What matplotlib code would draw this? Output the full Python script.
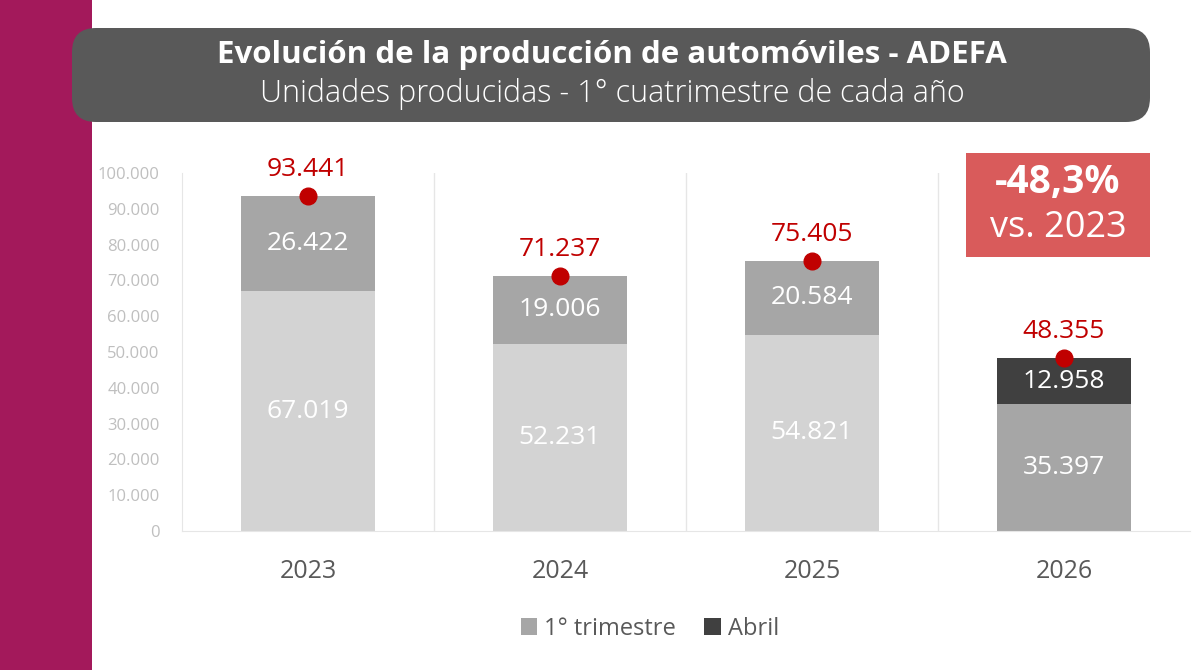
import matplotlib
matplotlib.use("Agg")
import matplotlib.pyplot as plt
from matplotlib.patches import FancyBboxPatch, Rectangle, Patch
import numpy as np

years = ["2023", "2024", "2025", "2026"]
trimestre = [67019, 52231, 54821, 35397]
abril = [26422, 19006, 20584, 12958]
totals = [93441, 71237, 75405, 48355]
ytick_vals = [0, 10000, 20000, 30000, 40000, 50000, 60000, 70000, 80000, 90000, 100000]
title = "Evolución de la producción de automóviles - ADEFA"
subtitle = "Unidades producidas - 1° cuatrimestre de cada año"
callout_pct = "-48,3%"
callout_ref = "vs. 2023"
legend_labels = ["1° trimestre", "Abril"]

plt.rcParams['font.family'] = ['Open Sans', 'DejaVu Sans']

def fmt(v):
    return f"{v:,}".replace(",", ".")

fig = plt.figure(figsize=(12, 6.7), dpi=100)
fig.patch.set_facecolor("white")

# left magenta band
fig.patches.append(Rectangle((0, 0), 92/1200, 1, transform=fig.transFigure,
                             facecolor="#A3195B", edgecolor="none", zorder=0))
# title box
fig.patches.append(FancyBboxPatch((72/1200, (670-122)/670), (1150-72)/1200, (122-28)/670,
                                  boxstyle="round,pad=0,rounding_size=0.02",
                                  transform=fig.transFigure, facecolor="#595959",
                                  edgecolor="none", zorder=1, mutation_aspect=1200/670))
fig.text(612/1200, (670-55)/670, title, ha="center", va="center", color="white",
         fontsize=22.5, fontweight="bold", zorder=2)
fig.text(612/1200, (670-94)/670, subtitle, ha="center", va="center", color="white",
         fontsize=22, fontweight="light", zorder=2)

ax = fig.add_axes([182/1200, (670-531)/670, (1190-182)/1200, (531-173)/670])
x = np.arange(len(years))
w = 0.53
bottom_colors = ["#D3D3D3", "#D3D3D3", "#D3D3D3", "#A6A6A6"]
top_colors = ["#A6A6A6", "#A6A6A6", "#A6A6A6", "#404040"]
ax.bar(x, trimestre, width=w, color=bottom_colors, zorder=2)
ax.bar(x, abril, width=w, bottom=trimestre, color=top_colors, zorder=2)

for i in range(len(years)):
    ax.text(x[i], trimestre[i] / 2, fmt(trimestre[i]), ha="center", va="center",
            color="white", fontsize=19, zorder=3)
    ax.text(x[i], trimestre[i] + abril[i] / 2, fmt(abril[i]), ha="center", va="center",
            color="white", fontsize=19, zorder=3)
    ax.plot(x[i], totals[i], "o", color="#C00000", markersize=12, zorder=4, clip_on=False)
    ax.text(x[i], totals[i] + 4000, fmt(totals[i]), ha="center", va="bottom",
            color="#C00000", fontsize=19, zorder=4)

ax.set_xlim(-0.5, 3.5)
ax.set_ylim(0, 100000)
for s in ["top", "right"]:
    ax.spines[s].set_visible(False)
ax.spines["left"].set_color("#E6E6E6")
ax.spines["bottom"].set_color("#E6E6E6")
for sep in [0.5, 1.5, 2.5]:
    ax.axvline(sep, color="#E6E6E6", lw=1, zorder=1)

ax.set_yticks(ytick_vals)
ax.set_yticklabels([fmt(v) for v in ytick_vals])
ax.tick_params(axis="y", length=0, labelsize=12, labelcolor="#BFBFBF", pad=16)
ax.set_xticks(x)
ax.set_xticklabels(years)
ax.tick_params(axis="x", length=0, labelsize=18, labelcolor="#595959", pad=20)

# callout
fig.patches.append(Rectangle((966/1200, (670-257)/670), (1150-966)/1200, (257-153)/670,
                             transform=fig.transFigure, facecolor="#D95B5B",
                             edgecolor="none", zorder=5))
fig.text(1058/1200, (670-183)/670, callout_pct, ha="center", va="center", color="white",
         fontsize=28, fontweight="bold", zorder=6)
fig.text(1058/1200, (670-228)/670, callout_ref, ha="center", va="center", color="white",
         fontsize=26, zorder=6)

# legend
handles = [Patch(facecolor="#A6A6A6"), Patch(facecolor="#404040")]
fig.legend(handles, legend_labels, loc="center", bbox_to_anchor=(650/1200, (670-629)/670),
           ncol=2, frameon=False, fontsize=17, labelcolor="#595959",
           handlelength=0.7, handleheight=0.7, handletextpad=0.3, columnspacing=1.2)

fig.savefig("out.png", dpi=100, facecolor="white")
